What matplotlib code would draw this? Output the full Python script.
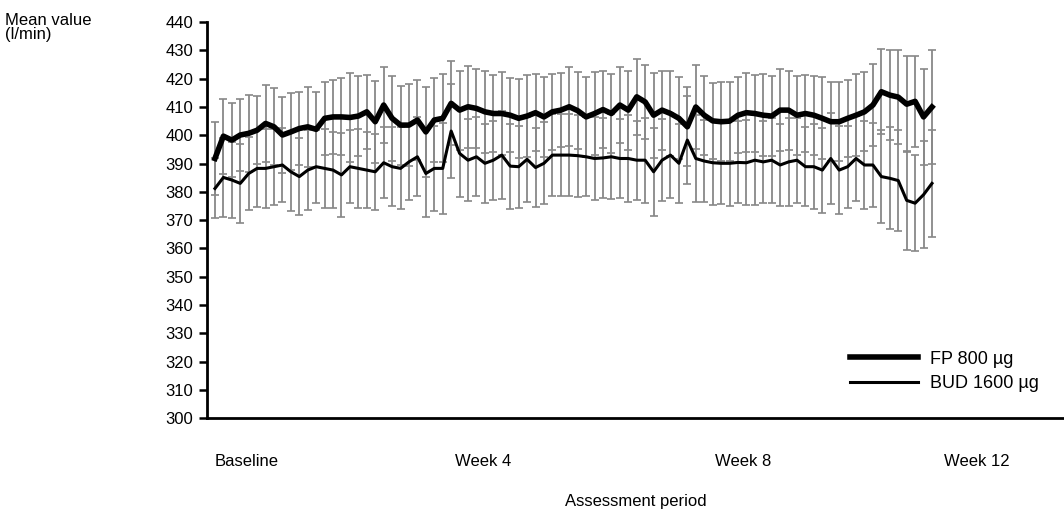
import numpy as np
import matplotlib
matplotlib.use("Agg")
import matplotlib.pyplot as plt

plt.rcParams['font.family'] = ['Liberation Sans', 'DejaVu Sans']

# daily mean PEF (l/min)
fp_mean = [391.8, 399.7, 398.3, 400.1, 400.7, 401.8, 404.2, 403.0, 400.1, 401.2,
           402.4, 403.0, 402.1, 406.0, 406.5, 406.5, 406.3, 406.8, 408.3, 404.8,
           410.7, 406.0, 403.6, 403.6, 405.4, 401.2, 405.4, 406.0, 411.3, 408.9,
           410.1, 409.5, 408.3, 407.7, 407.7, 407.1, 406.0, 406.8, 408.0, 406.5,
           408.3, 408.9, 410.1, 408.7, 406.5, 407.7, 409.1, 407.7, 410.7, 408.9,
           413.6, 411.8, 407.1, 408.9, 407.7, 406.0, 403.0, 410.0, 407.1, 405.1,
           404.8, 405.0, 407.1, 408.0, 407.7, 407.1, 406.8, 408.9, 408.9, 407.1,
           407.7, 407.1, 406.0, 404.8, 404.8, 406.0, 407.1, 408.3, 410.7, 415.4,
           414.2, 413.5, 411.0, 412.0, 406.5, 410.0]
bud_mean = [381.2, 385.1, 384.2, 383.0, 386.5, 388.3, 388.3, 388.9, 389.5, 387.1,
            385.4, 387.7, 388.9, 388.3, 387.7, 386.0, 388.9, 388.3, 387.7, 387.1,
            390.3, 388.9, 388.3, 390.6, 392.4, 386.5, 388.3, 388.3, 401.5, 393.6,
            391.2, 392.4, 390.1, 391.2, 393.0, 389.1, 388.9, 391.5, 388.6, 390.1,
            393.0, 393.0, 393.0, 392.8, 392.4, 391.8, 392.0, 392.4, 391.8, 391.8,
            391.2, 391.2, 387.1, 391.2, 393.0, 390.1, 398.3, 391.8, 390.9, 390.3,
            390.1, 390.1, 390.4, 390.3, 391.2, 390.6, 391.2, 389.5, 390.6, 391.2,
            388.9, 388.9, 387.7, 391.8, 387.7, 388.9, 391.8, 389.5, 389.5, 385.4,
            384.8, 384.0, 377.0, 376.0, 379.0, 383.0]
fp_sd = [13.0, 13.3, 13.0, 12.6, 13.5, 12.0, 13.5, 13.6, 13.5, 13.6,
         13.0, 14.2, 13.3, 12.9, 13.0, 13.6, 15.6, 14.0, 13.0, 14.5,
         13.5, 15.0, 14.0, 14.5, 14.0, 16.0, 15.0, 15.5, 14.8, 14.0,
         14.5, 14.0, 14.5, 13.5, 14.5, 13.0, 14.0, 14.5, 13.5, 14.0,
         13.5, 13.0, 14.0, 13.5, 14.0, 14.5, 13.5, 14.0, 13.5, 14.0,
         13.5, 13.0, 15.0, 14.0, 15.0, 14.5, 14.0, 15.0, 14.0, 13.5,
         14.0, 14.0, 13.5, 14.0, 13.5, 14.5, 14.0, 14.5, 14.0, 14.0,
         13.5, 14.0, 14.5, 14.0, 14.0, 13.5, 14.5, 14.0, 14.5, 15.0,
         16.0, 16.5, 17.0, 16.0, 17.0, 20.0]
bud_sd = [10.6, 13.9, 13.5, 14.0, 13.0, 13.5, 14.0, 13.5, 13.0, 14.0,
          13.5, 14.0, 13.0, 14.0, 13.5, 14.8, 12.9, 14.0, 13.5, 13.5,
          12.6, 14.0, 14.5, 13.5, 14.0, 15.3, 15.0, 16.0, 16.7, 15.3,
          14.5, 14.0, 14.0, 14.0, 15.5, 15.0, 14.5, 15.0, 14.0, 14.5,
          14.5, 14.5, 14.5, 14.5, 14.0, 14.5, 14.0, 15.0, 14.0, 15.5,
          14.0, 15.0, 15.5, 14.5, 15.0, 14.0, 15.5, 15.5, 14.5, 15.0,
          14.5, 15.0, 14.5, 15.0, 16.0, 14.5, 15.0, 14.5, 15.5, 15.0,
          14.0, 15.0, 15.0, 16.0, 15.5, 14.5, 15.0, 15.5, 15.0, 16.5,
          18.0, 18.0, 17.5, 17.0, 19.0, 19.0]
days = np.arange(len(fp_mean))

period_labels = ["Baseline", "Week 4", "Week 8", "Week 12"]
period_pos = [3.7, 31.8, 62.6, 90.3]

fig = plt.figure(figsize=(10.64, 5.15), dpi=100)
ax = fig.add_axes([0.1945, 0.188, 0.8055, 0.769])

bar_color = '#888888'
ax.errorbar(days, fp_mean, yerr=fp_sd, fmt='none', ecolor=bar_color,
            elinewidth=1.3, capsize=3, capthick=1.2, zorder=1)
ax.errorbar(days, bud_mean, yerr=bud_sd, fmt='none', ecolor=bar_color,
            elinewidth=1.3, capsize=3, capthick=1.2, zorder=1)
ax.plot(days, fp_mean, color='black', linewidth=4, label='FP 800 µg', zorder=3)
ax.plot(days, bud_mean, color='black', linewidth=2.2, label='BUD 1600 µg', zorder=3)

ax.set_xlim(-0.95, 100.65)
ax.set_ylim(300, 440)
ax.set_yticks(np.arange(300, 441, 10))
ax.set_xticks(period_pos)
ax.set_xticklabels(period_labels)
ax.tick_params(axis='y', direction='out', length=6, width=1.8, labelsize=12, pad=4)
ax.tick_params(axis='x', length=0, labelsize=12, pad=26)

ax.spines['top'].set_visible(False)
ax.spines['right'].set_visible(False)
ax.spines['left'].set_linewidth(2)
ax.spines['bottom'].set_linewidth(2)

ax.set_xlabel('Assessment period', fontsize=12, labelpad=18)
fig.text(0.005, 0.975, 'Mean value\n(l/min)', fontsize=12, va='top', ha='left',
         linespacing=0.95)

ax.legend(loc='lower left', bbox_to_anchor=(850 / 1064, 1 - 392 / 515),
          bbox_transform=fig.transFigure, frameon=False, borderpad=0,
          borderaxespad=0, fontsize=13, handlelength=3.77, labelspacing=0.4,
          handletextpad=0.66)

fig.savefig('out.png', dpi=100)
